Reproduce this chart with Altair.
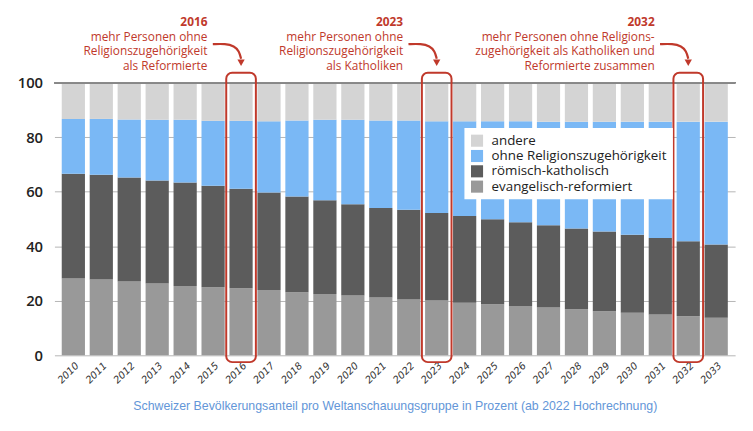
import altair as alt
import pandas as pd

years = list(range(2010, 2034))
groups = ["andere", "ohne Religionszugehörigkeit", "römisch-katholisch", "evangelisch-reformiert"]
colors = ["#d4d4d4", "#7ab8f5", "#5c5c5c", "#999999"]

reformiert = [28.2, 27.8, 27.1, 26.3, 25.4, 25.0, 24.6, 24.0, 23.1, 22.5, 21.9, 21.2,
              20.5, 20.1, 19.3, 18.7, 18.1, 17.5, 16.9, 16.2, 15.6, 15.0, 14.4, 13.8]
katholisch = [38.4, 38.4, 38.1, 37.8, 38.0, 37.2, 36.5, 35.7, 35.1, 34.4, 33.5, 32.8,
              32.9, 32.1, 31.8, 31.2, 30.7, 30.2, 29.6, 29.2, 28.6, 28.0, 27.4, 26.8]
ohne = [20.1, 20.5, 21.3, 22.3, 23.0, 23.8, 24.9, 26.1, 27.9, 29.5, 31.0, 32.1,
        32.7, 33.6, 34.7, 35.9, 37.0, 38.0, 39.2, 40.3, 41.5, 42.7, 43.9, 45.1]
andere = [13.3, 13.3, 13.5, 13.6, 13.6, 14.0, 14.0, 14.2, 13.9, 13.6, 13.6, 13.9,
          13.9, 14.2, 14.2, 14.2, 14.2, 14.3, 14.3, 14.3, 14.3, 14.3, 14.3, 14.3]

highlight_years = [2016, 2023, 2032]
highlight_titles = ["2016", "2023", "2032"]
highlight_texts = [
    "mehr Personen ohne\nReligionszugehörigkeit\nals Reformierte",
    "mehr Personen ohne\nReligionszugehörigkeit\nals Katholiken",
    "mehr Personen ohne Religions-\nzugehörigkeit als Katholiken und\nReformierte zusammen",
]
caption = "Schweizer Bevölkerungsanteil pro Weltanschauungsgruppe in Prozent (ab 2022 Hochrechnung)"

# curved arrow shape (offset in years, y value above the 100 line)
arrow_dx = [-1.01, -0.56, -0.24, -0.07, 0.0]
arrow_y = [114.1, 114.3, 113.4, 111.6, 108.8]

RED = "#c0392b"

series = {
    "evangelisch-reformiert": reformiert,
    "römisch-katholisch": katholisch,
    "ohne Religionszugehörigkeit": ohne,
    "andere": andere,
}
stack_order = {"evangelisch-reformiert": 0, "römisch-katholisch": 1,
               "ohne Religionszugehörigkeit": 2, "andere": 3}
rows = []
for g, vals in series.items():
    for y, v in zip(years, vals):
        rows.append({"year": y, "group": g, "value": v, "order": stack_order[g]})
df = pd.DataFrame(rows)

hl = pd.DataFrame({"year": highlight_years, "title": highlight_titles, "body": highlight_texts})
arrows = pd.DataFrame([
    {"year": hy + dx, "ay": ay, "grp": str(hy), "i": i}
    for hy in highlight_years
    for i, (dx, ay) in enumerate(zip(arrow_dx, arrow_y))
])

xscale = alt.Scale(domain=[2009.5, 2033.5], nice=False, zero=False)
yscale = alt.Scale(domain=[0, 100], nice=False)

xaxis = alt.Axis(values=years, format="d", labelAngle=-45, labelFontSize=10,
                 labelFont="DejaVu Sans", labelFontStyle="italic", labelColor="#333",
                 labelOverlap=False, labelBound=False, labelFlush=False,
                 ticks=False, domain=False, grid=False, labelPadding=5,
                 title=caption, titleColor="#6396d8", titleFont="Liberation Sans",
                 titleFontSize=12.5, titleFontWeight="normal", titlePadding=15)
yaxis = alt.Axis(values=[0, 20, 40, 60, 80, 100], title=None, ticks=False, domain=False,
                 labelFontSize=15, labelFont="Open Sans", labelColor="#222",
                 labelFontWeight=600, labelPadding=12, gridColor="#b5b5b5", gridWidth=1)

bars = alt.Chart(df).mark_bar(width=23.5).encode(
    x=alt.X("year:Q", scale=xscale, axis=xaxis),
    y=alt.Y("value:Q", stack="zero", scale=yscale, axis=yaxis),
    color=alt.Color("group:N", scale=alt.Scale(domain=groups, range=colors),
                    legend=alt.Legend(title=None, orient="none", legendX=415, legendY=46,
                                      fillColor="white", padding=6, symbolType="square",
                                      symbolSize=150, symbolStrokeWidth=0,
                                      labelFont="Open Sans", labelFontSize=13.5,
                                      labelColor="#222", rowPadding=0.5, labelOffset=8,
                                      labelLimit=0)),
    order=alt.Order("order:Q", sort="ascending"),
)

top_rule = alt.Chart(df).mark_rule(color="#8a8a8a", strokeWidth=1).encode(y=alt.datum(100))

boxes = alt.Chart(hl).mark_bar(filled=False, width=30, cornerRadius=6, stroke=RED,
                               strokeWidth=2).encode(
    x=alt.X("year:Q", axis=xaxis), y=alt.datum(103.6), y2=alt.datum(-2.5))

titles = alt.Chart(hl).mark_text(align="right", baseline="middle", dx=-34, font="Open Sans",
                                 fontSize=12, fontWeight="bold", color=RED).encode(
    x=alt.X("year:Q", axis=xaxis), y=alt.datum(122.1), text="title:N")

bodies = alt.Chart(hl).mark_text(align="right", baseline="middle", dx=-34, font="Open Sans",
                                 fontSize=12, color=RED, lineBreak="\n",
                                 lineHeight=14.5).encode(
    x=alt.X("year:Q", axis=xaxis), y=alt.datum(116.7), text="body:N")

arrow_lines = alt.Chart(arrows).mark_line(interpolate="basis", color=RED, strokeWidth=2.2).encode(
    x=alt.X("year:Q", axis=xaxis), y=alt.Y("ay:Q", axis=yaxis), detail="grp:N", order="i:Q")

arrow_heads = alt.Chart(hl).mark_point(shape="triangle-down", filled=True, size=55,
                                       color=RED, opacity=1).encode(
    x=alt.X("year:Q", axis=xaxis), y=alt.datum(107.3))

chart = alt.layer(bars, top_rule, boxes, arrow_lines, arrow_heads, titles, bodies).properties(
    width=689, height=276,
    autosize=alt.AutoSizeParams(type="none"),
    padding={"left": 47, "top": 73, "right": 10, "bottom": 70},
).configure_view(stroke=None).configure_axisX(labelOverlap=False)

chart.save("out.html", embed_options={"renderer": "svg", "actions": False})
